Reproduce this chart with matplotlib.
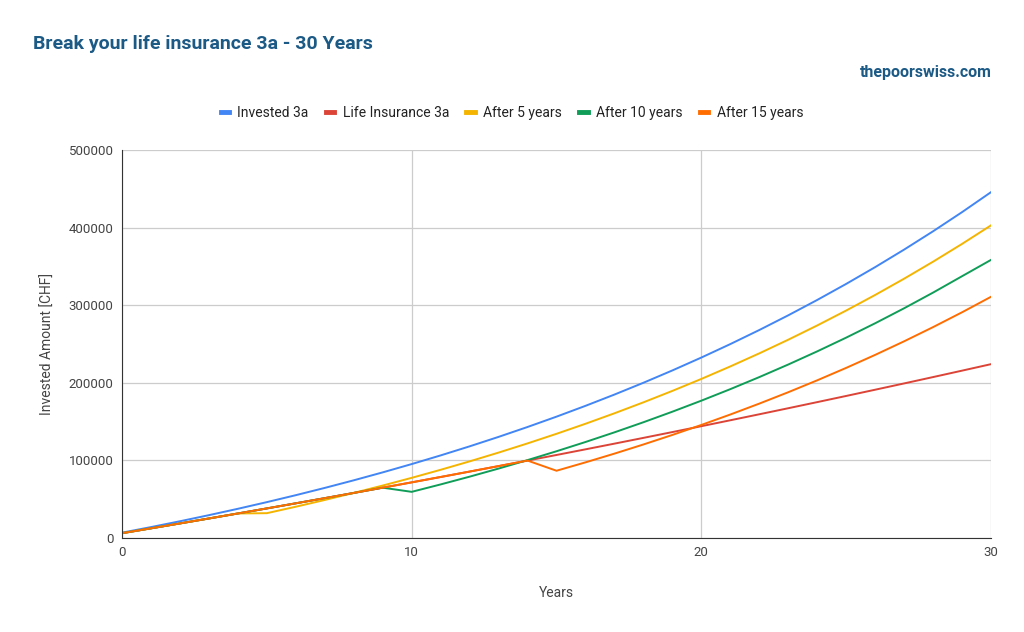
import matplotlib.pyplot as plt
from matplotlib.lines import Line2D

plt.rcParams['font.family'] = ['Roboto', 'DejaVu Sans']

years = list(range(31))

invested_3a = [6883, 14076, 21592, 29446, 37657, 46233, 55195, 64563, 74350, 84578,
               95268, 106439, 118112, 130309, 143056, 156375, 170299, 184843, 200048, 215927,
               232528, 249874, 268003, 286945, 306741, 327431, 349044, 371634, 395243, 419911,
               445688]
life_insurance_3a = [6200, 12462, 18787, 25174, 31626, 38142, 44724, 51371, 58085, 64866,
                     71714, 78632, 85618, 92674, 99801, 106999, 114268, 121611, 129028, 136518,
                     144083, 151724, 159441, 167236, 175108, 183059, 191090, 199200, 207392, 215666,
                     224023]
after_5 = [6200, 12462, 18787, 25174, 31626, 32000, 40323, 49020, 58109, 67607,
           77532, 87904, 98743, 110069, 121905, 134274, 147199, 160706, 174821, 189571,
           204985, 221092, 237924, 255514, 273895, 293103, 313176, 334152, 356072, 378978,
           402915]
after_10 = [6200, 12462, 18787, 25174, 31626, 38142, 44724, 51371, 58085, 64866,
            59500, 69061, 79052, 89492, 100402, 111803, 123717, 136167, 149177, 162773,
            176981, 191828, 207343, 223556, 240499, 258205, 276707, 296042, 316247, 337361,
            358400]
after_15 = [6200, 12462, 18787, 25174, 31626, 38142, 44724, 51371, 58085, 64866,
            71714, 78632, 85618, 92674, 99801, 86700, 97485, 108755, 120532, 132839,
            145700, 159140, 173184, 187860, 203197, 219224, 235972, 253474, 271763, 290875,
            310847]

labels = ['Invested 3a', 'Life Insurance 3a', 'After 5 years', 'After 10 years', 'After 15 years']
colors = ['#4285F4', '#DB4437', '#F4B400', '#0F9D58', '#FF6D01']
series = [invested_3a, life_insurance_3a, after_5, after_10, after_15]

fig = plt.figure(figsize=(10.24, 6.32), dpi=100)
ax = fig.add_axes([0.1191, 0.1487, 0.8487, 0.614])

for vals, c in zip(series, colors):
    ax.plot(years, vals, color=c, linewidth=1.4, solid_joinstyle='miter')

ax.set_xlim(0, 30)
ax.set_ylim(0, 500000)
ax.set_xticks([0, 10, 20, 30])
ax.set_yticks(range(0, 500001, 100000))
ax.grid(True, color='#cccccc', linewidth=0.9)
ax.set_axisbelow(True)
for s in ['top', 'right']:
    ax.spines[s].set_visible(False)
ax.spines['left'].set_color('#333333')
ax.spines['bottom'].set_color('#333333')
ax.tick_params(length=0, labelsize=9.5, labelcolor='#444444', pad=6)

ax.set_xlabel('Years', fontsize=10, color='#444444', labelpad=19)
ax.set_ylabel('Invested Amount [CHF]', fontsize=10, color='#444444', labelpad=10)

fig.text(33/1024, 1 - 44/632, 'Break your life insurance 3a - 30 Years',
         fontsize=14, fontweight='bold', color='#1c5a86', va='center', ha='left')
fig.text(992/1024, 1 - 73/632, 'thepoorswiss.com',
         fontsize=11.5, fontweight='bold', color='#1c5a86', va='center', ha='right')

handles = [Line2D([0], [0], color=c, linewidth=3.5) for c in colors]
fig.legend(handles, labels, loc='center', bbox_to_anchor=(0.5, 1 - 113/632), ncol=5,
           frameon=False, fontsize=10, handlelength=0.6, handletextpad=0.6,
           columnspacing=1.25, labelcolor='#222222')

fig.savefig('out.png', dpi=100)
